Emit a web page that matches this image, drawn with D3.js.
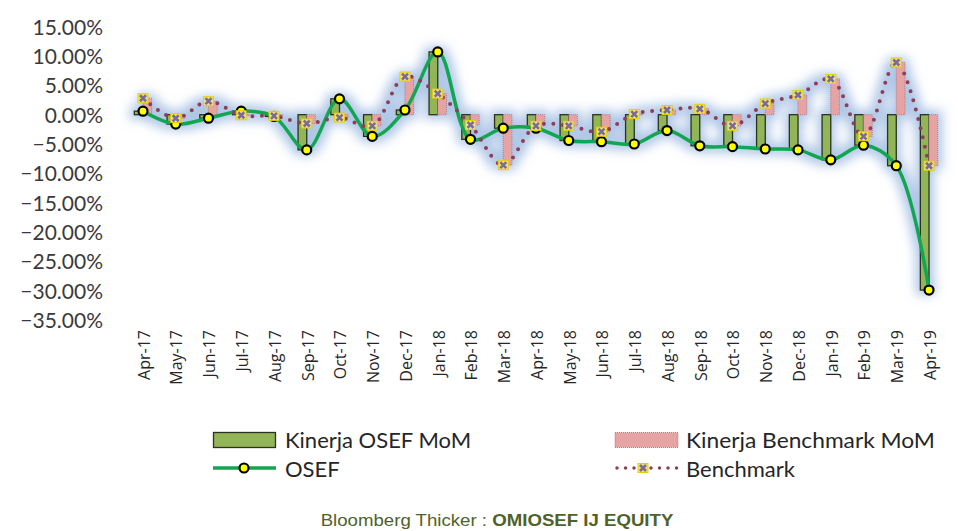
<!DOCTYPE html>
<html>
<head>
<meta charset="utf-8">
<script src="https://cdn.jsdelivr.net/npm/d3@7"></script>
<style>
  html, body { margin: 0; padding: 0; background: #fff; }
  svg { display: block; }
</style>
</head>
<body>
<svg id="chart" width="958" height="531"></svg>
<script>
const categories = ["Apr-17","May-17","Jun-17","Jul-17","Aug-17","Sep-17","Oct-17","Nov-17","Dec-17",
  "Jan-18","Feb-18","Mar-18","Apr-18","May-18","Jun-18","Jul-18","Aug-18","Sep-18","Oct-18","Nov-18",
  "Dec-18","Jan-19","Feb-19","Mar-19","Apr-19"];
const osefValues = [0.6, -1.6, -0.6, 0.6, -0.3, -6.0, 2.7, -3.7, 0.8, 10.7, -4.2, -2.3, -2.3, -4.4, -4.6,
  -5.0, -2.7, -5.3, -5.45, -5.85, -6.0, -7.7, -5.2, -8.7, -29.9];
const benchValues = [2.8, -0.6, 2.3, -0.1, -0.2, -1.5, -0.5, -1.9, 6.5, 3.6, -1.75, -8.6, -1.9, -1.9, -2.9,
  0.1, 0.8, 1.0, -1.9, 1.9, 3.35, 6.1, -3.7, 8.9, -8.7];
const yTicks = [15, 10, 5, 0, -5, -10, -15, -20, -25, -30, -35];
const legendLabels = ["Kinerja OSEF MoM", "Kinerja Benchmark MoM", "OSEF", "Benchmark"];
const footerNormal = "Bloomberg Thicker : ";
const footerBold = "OMIOSEF IJ EQUITY";

const svg = d3.select("#chart");
const defs = svg.append("defs");
const glow = defs.append("filter").attr("id", "glow")
  .attr("x", "-20%").attr("y", "-50%").attr("width", "140%").attr("height", "200%");
glow.append("feMorphology").attr("in", "SourceAlpha").attr("operator", "dilate").attr("radius", 4).attr("result", "d");
glow.append("feGaussianBlur").attr("in", "d").attr("stdDeviation", 5.5).attr("result", "b");
glow.append("feFlood").attr("flood-color", "#a6c0e4").attr("flood-opacity", 0.9);
glow.append("feComposite").attr("in2", "b").attr("operator", "in");

const x = d3.scaleBand().domain(categories).range([126.6, 945.4]).paddingInner(0).paddingOuter(0);
const y = d3.scaleLinear().domain([-35, 15]).range([320, 26.7]);
const cx = d => x(d) + x.bandwidth() / 2;
const bw = x.bandwidth() * 0.265;

// Y axis labels
const yAxis = d3.axisLeft(y).tickValues(yTicks).tickFormat(d => d3.format(".2f")(d) + "%").tickSize(0).tickPadding(0);
const yg = svg.append("g").attr("transform", "translate(103,0)").call(yAxis);
yg.select(".domain").remove();
yg.selectAll("text").attr("font-family", "Lato, sans-serif").attr("font-size", 21).attr("fill", "#3a3a3a").attr("dy", "0.35em");

// X axis labels
const xAxis = d3.axisBottom(x).tickSize(0).tickPadding(0);
const xg = svg.append("g").attr("transform", "translate(1,330)").call(xAxis);
xg.select(".domain").remove();
xg.selectAll("text").attr("font-family", "'Open Sans', sans-serif").attr("font-size", 16).attr("fill", "#262626")
  .attr("text-anchor", "end").attr("transform", "rotate(-90)").attr("x", 0).attr("y", 0).attr("dy", "0.36em").attr("dx", 0);

const data = categories.map((c, i) => ({ c, o: osefValues[i], b: benchValues[i] }));
const curve = d3.curveCatmullRom.alpha(0.5);
const osefLine = d3.line().x(d => cx(d.c)).y(d => y(d.o)).curve(curve);
const benchLine = d3.line().x(d => cx(d.c)).y(d => y(d.b)).curve(curve);

function drawBars(g) {
  g.selectAll("rect.osef").data(data).join("rect").attr("class", "osef")
    .attr("x", d => cx(d.c) - bw).attr("width", bw)
    .attr("y", d => y(Math.max(0, d.o))).attr("height", d => Math.abs(y(d.o) - y(0)))
    .attr("fill", "#92b558").attr("stroke", "#2b3320").attr("stroke-width", 1.3);
  g.selectAll("rect.bench").data(data).join("rect").attr("class", "bench")
    .attr("x", d => cx(d.c)).attr("width", bw)
    .attr("y", d => y(Math.max(0, d.b))).attr("height", d => Math.abs(y(d.b) - y(0)))
    .attr("fill", "#e6a3a3").attr("stroke", "#b97a86").attr("stroke-width", 1).attr("stroke-dasharray", "1,1");
}

// Glow layer (silhouettes of every series, blurred in light blue)
const glowG = svg.append("g").attr("filter", "url(#glow)");
drawBars(glowG.append("g"));
glowG.append("path").datum(data).attr("d", osefLine).attr("fill", "none").attr("stroke", "#000").attr("stroke-width", 4);
glowG.append("path").datum(data).attr("d", benchLine).attr("fill", "none").attr("stroke", "#000").attr("stroke-width", 3);

// Bars
drawBars(svg.append("g"));

// OSEF line
const osefG = svg.append("g");
osefG.append("path").datum(data).attr("d", osefLine)
  .attr("fill", "none").attr("stroke", "#12a652").attr("stroke-width", 3.5);
osefG.selectAll("circle").data(data).join("circle")
  .attr("cx", d => cx(d.c)).attr("cy", d => y(d.o)).attr("r", 4.5)
  .attr("fill", "#ffff00").attr("stroke", "#000").attr("stroke-width", 2.2);

// Benchmark line
function benchMarker(sel) {
  sel.append("rect").attr("x", -5).attr("y", -4.5).attr("width", 10).attr("height", 9)
    .attr("fill", "#eee27a").attr("stroke", "#e8d000").attr("stroke-width", 1);
  sel.append("path").attr("d", "M-3,-3L3,3M3,-3L-3,3").attr("stroke", "#7b6a9a").attr("stroke-width", 2.6);
}
const benchG = svg.append("g");
benchG.append("path").datum(data).attr("d", benchLine)
  .attr("fill", "none").attr("stroke", "#8c3f57").attr("stroke-width", 4)
  .attr("stroke-linecap", "round").attr("stroke-dasharray", "0,9.5");
benchG.selectAll("g.m").data(data).join("g").attr("class", "m")
  .attr("transform", d => `translate(${cx(d.c)},${y(d.b)})`).call(benchMarker);

// Legend
const lg = svg.append("g");
const legendFont = { "font-family": "Lato, sans-serif", "font-size": 22, "fill": "#262626" };
function applyFont(t) { Object.entries(legendFont).forEach(([k, v]) => t.attr(k, v)); return t; }
lg.append("rect").attr("x", 213.5).attr("y", 432.5).attr("width", 62).attr("height", 15)
  .attr("fill", "#92b558").attr("stroke", "#2b3320").attr("stroke-width", 1.3);
applyFont(lg.append("text").attr("x", 285).attr("y", 448).text(legendLabels[0]));
lg.append("rect").attr("x", 615).attr("y", 432.5).attr("width", 63).attr("height", 15)
  .attr("fill", "#e6a3a3").attr("stroke", "#b97a86").attr("stroke-width", 1).attr("stroke-dasharray", "1,1");
applyFont(lg.append("text").attr("x", 686).attr("y", 448).attr("textLength", 249).attr("lengthAdjust", "spacingAndGlyphs").text(legendLabels[1]));
lg.append("line").attr("x1", 213).attr("x2", 276).attr("y1", 468).attr("y2", 468)
  .attr("stroke", "#12a652").attr("stroke-width", 3.5);
lg.append("circle").attr("cx", 244).attr("cy", 468).attr("r", 4.5)
  .attr("fill", "#ffff00").attr("stroke", "#000").attr("stroke-width", 2.2);
applyFont(lg.append("text").attr("x", 285).attr("y", 477).text(legendLabels[2]));
lg.append("line").attr("x1", 617).attr("x2", 678).attr("y1", 468).attr("y2", 468)
  .attr("stroke", "#8c3f57").attr("stroke-width", 3.5).attr("stroke-linecap", "round").attr("stroke-dasharray", "0,8.5");
lg.append("g").attr("transform", "translate(643,468)").call(benchMarker);
applyFont(lg.append("text").attr("x", 686).attr("y", 477).text(legendLabels[3]));

// Footer
const ft = svg.append("text").attr("x", 0).attr("y", 0).attr("text-anchor", "middle")
  .attr("transform", "translate(497,526) scale(1.165,1)")
  .attr("font-family", "'Liberation Sans Narrow', 'Arial Narrow', sans-serif").attr("font-size", 16).attr("fill", "#4f6228");
ft.append("tspan").text(footerNormal);
ft.append("tspan").attr("font-weight", "bold").text(footerBold);
</script>
</body>
</html>
